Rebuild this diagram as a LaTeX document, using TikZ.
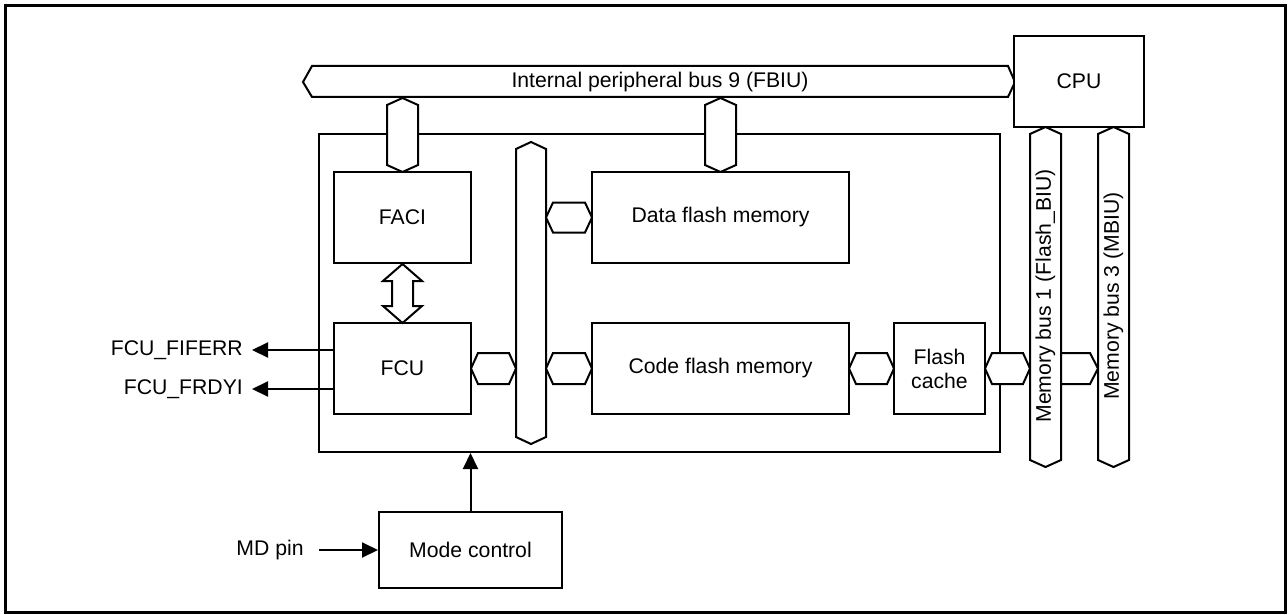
\documentclass[tikz,border=0pt]{standalone}
\usepackage{fontspec}
\setmainfont{Liberation Sans}
\usetikzlibrary{arrows.meta,calc}
\newcommand\hexH[5]{% xleft xright ymid halfheight tip
  \filldraw[hexs] (#1,#3) -- ({#1+#5},{#3-#4}) -- ({#2-#5},{#3-#4}) -- (#2,#3)
    -- ({#2-#5},{#3+#4}) -- ({#1+#5},{#3+#4}) -- cycle;}
\newcommand\hexV[5]{% xleft xright ytop ybottom tip
  \filldraw[hexs] (#1,{#3+#5}) -- ({(#1+#2)/2},#3) -- (#2,{#3+#5}) -- (#2,{#4-#5})
    -- ({(#1+#2)/2},#4) -- (#1,{#4-#5}) -- cycle;}
\begin{document}
\begin{tikzpicture}[x=1pt,y=-1pt,
  every node/.style={font=\fontsize{21.2}{24}\selectfont},
  box/.style={draw, line width=2pt, fill=white, inner sep=0pt, align=center},
  hexs/.style={draw, line width=2pt, fill=white, line join=miter},
  arr/.style={draw, line width=2pt, -{Triangle[length=16pt,width=15pt]}},
  lbl/.style={inner sep=0pt}
]
\useasboundingbox (0,0) rectangle (1288,615);
\draw[line width=3pt] (5,6) rectangle (1285,612);

% internal peripheral bus 9
\filldraw[hexs] (312,66) -- (1008,66) -- (1015,82) -- (1008,97) -- (312,97) -- (303,82) -- cycle;
\node[lbl] (pbus) at (660,82) {Internal peripheral bus 9 (FBIU)};

% CPU
\node[box, minimum width=130pt, minimum height=91pt] (cpu) at (1079,81.5) {CPU};

% chip box
\node[box, minimum width=681pt, minimum height=318pt] (chip) at (659.5,293) {};

% vertical connectors from peripheral bus
\hexV{387}{418}{98}{172}{7}
\hexV{705}{736}{98}{172}{7}

% blocks
\node[box, minimum width=137pt, minimum height=91pt] (faci) at (402.5,217.5) {FACI};
\node[box, minimum width=257pt, minimum height=91pt] (dflash) at (720.5,217.5) {Data flash memory};
\node[box, minimum width=137pt, minimum height=91pt] (fcu) at (402.5,368.5) {FCU};
\node[box, minimum width=257pt, minimum height=91pt] (cflash) at (720.5,368.5) {Code flash memory};
\node[box, minimum width=91pt, minimum height=91pt] (cache) at (939.5,368.5) {Flash\\cache};

% internal vertical bus
\hexV{516}{546}{142}{444}{7}

% horizontal connectors
\hexH{546}{592}{217.5}{15}{7}
\hexH{471}{516}{368.5}{15.5}{7}
\hexH{546}{592}{368.5}{15.5}{7}
\hexH{849}{894}{368.5}{15.5}{7}
\hexH{985}{1030}{368.5}{15.5}{7}
\hexH{1050}{1098}{368.5}{15.5}{8}

% memory buses
\hexV{1030}{1061}{127}{467}{7}
\hexV{1098}{1129}{127}{467}{7}
\node[lbl, rotate=90] (mbus1) at (1045.5,296) {Memory bus 1 (Flash\_BIU)};
\node[lbl, rotate=90] (mbus3) at (1113.5,296) {Memory bus 3 (MBIU)};

% FACI <-> FCU hollow double arrow
\filldraw[hexs] (402.5,264) -- (422,281) -- (413,281) -- (413,306) -- (422,306) -- (402.5,323)
  -- (383,306) -- (392,306) -- (392,281) -- (383,281) -- cycle;

% FCU interrupt outputs
\node[lbl, anchor=east] (fiferr) at (243,350) {FCU\_FIFERR};
\node[lbl, anchor=east] (frdyi) at (243,389) {FCU\_FRDYI};
\draw[arr] (fcu.west |- fiferr.east) -- ([xshift=9pt]fiferr.east);
\draw[arr] (fcu.west |- frdyi.east) -- ([xshift=9pt]frdyi.east);

% mode control
\node[box, minimum width=183pt, minimum height=76pt] (mode) at (470.5,550) {Mode control};
\node[lbl] (mdpin) at (270,550) {MD pin};
\draw[arr] ([xshift=15pt]mdpin.east) -- (mode.west);
\draw[arr] (mode.north) -- (mode.north |- chip.south);
\end{tikzpicture}
\end{document}
